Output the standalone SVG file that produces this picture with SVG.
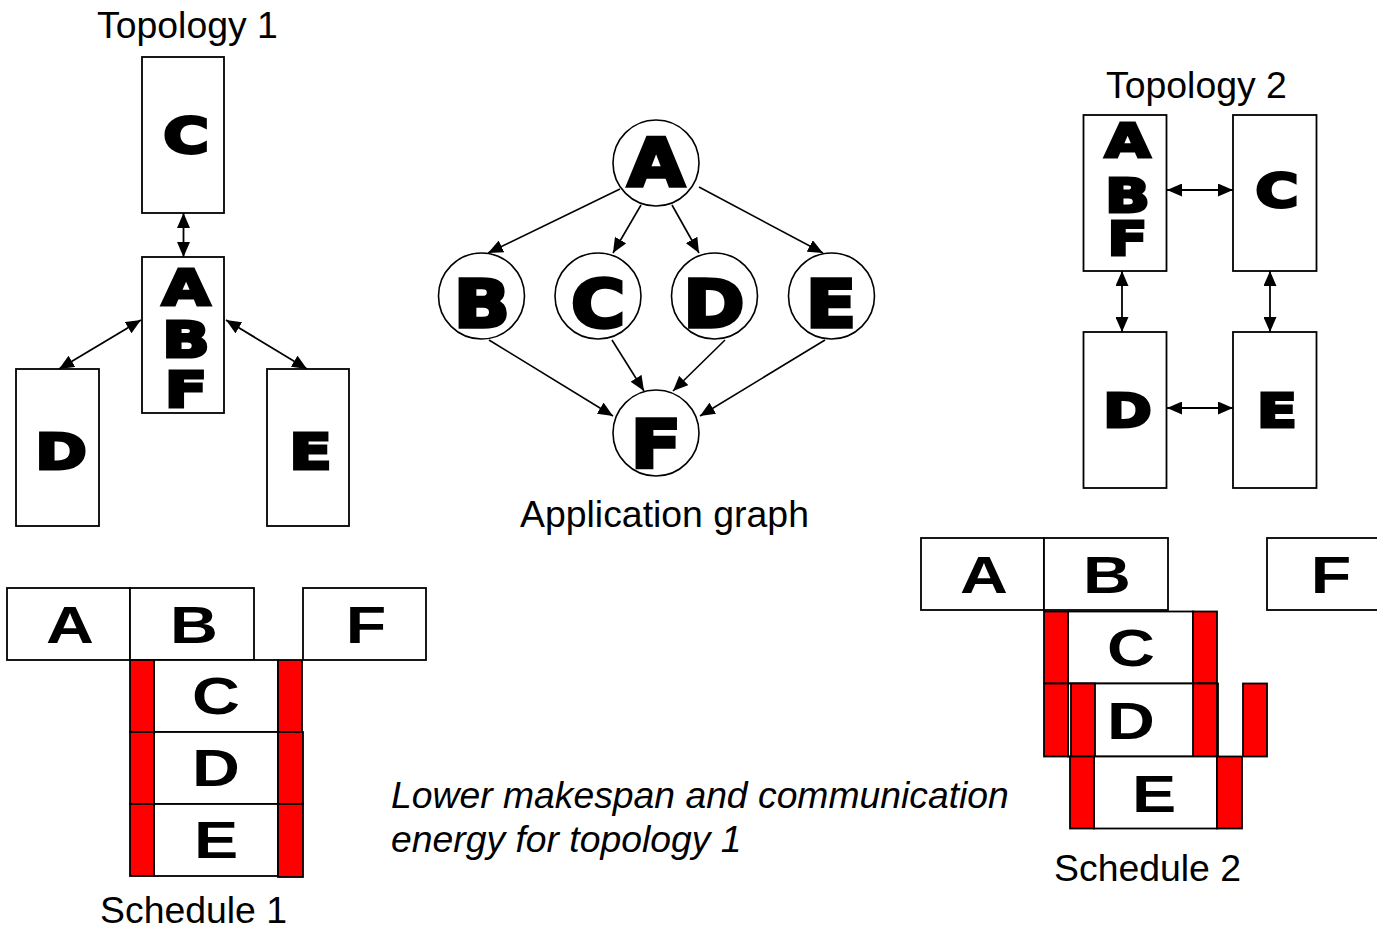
<svg xmlns="http://www.w3.org/2000/svg" width="1377" height="931" viewBox="0 0 1377 931">
<defs>
<marker id="ah" markerUnits="userSpaceOnUse" markerWidth="16" markerHeight="13" refX="15" refY="6.5" orient="auto-start-reverse">
<path d="M0,0 L15,6.5 L0,13 z" fill="#000"/>
</marker>
<style>
.box{fill:#fff;stroke:#000;stroke-width:1.8}
.red{fill:#ff0000;stroke:#000;stroke-width:1.8}
.circ{fill:#fff;stroke:#000;stroke-width:1.6}
.edge{stroke:#000;stroke-width:1.6;fill:none;marker-end:url(#ah)}
.link{stroke:#000;stroke-width:1.8;fill:none;marker-start:url(#ah);marker-end:url(#ah)}
.lbl{font-family:"Liberation Sans",Arial,sans-serif;font-size:37.4px;fill:#000}
.ital{font-family:"Liberation Sans",Arial,sans-serif;font-size:37.3px;font-style:italic;fill:#000}
.heavy{font-family:"DejaVu Sans",sans-serif;font-weight:bold;fill:#000;stroke:#000;stroke-width:3;stroke-linejoin:miter;text-anchor:middle}
.h49{font-size:49px}
.h46{font-size:46px}
.h66{font-size:66px;stroke-width:3.5}
.sch{font-family:"Liberation Sans",Arial,sans-serif;font-weight:bold;font-size:51px;fill:#000;text-anchor:middle}
</style>
</defs>

<g id="topology1">
<text class="lbl" x="97" y="38">Topology 1</text>
<g id="t1-C"><rect class="box" x="142" y="57" width="82" height="156"/><text class="heavy h49" transform="translate(186,152.5) scale(1.27,1)">C</text></g>
<g id="t1-ABF"><rect class="box" x="142" y="257" width="82" height="156"/>
<text class="heavy h49" transform="translate(186,0) scale(1.27,1)"><tspan x="0" y="305">A</tspan><tspan x="0" y="357">B</tspan><tspan x="0" y="407">F</tspan></text></g>
<g id="t1-D"><rect class="box" x="16" y="369" width="83" height="157"/><text class="heavy h49" transform="translate(61,468.5) scale(1.27,1)">D</text></g>
<g id="t1-E"><rect class="box" x="267" y="369" width="82" height="157"/><text class="heavy h49" transform="translate(310.5,468.5) scale(1.27,1)">E</text></g>
</g>

<g id="app-graph">
<g id="g-A"><circle class="circ" cx="656" cy="163" r="43"/><text class="heavy h66" transform="translate(656,185.5) scale(1.12,1)">A</text></g>
<g id="g-B"><circle class="circ" cx="481.5" cy="296" r="43"/><text class="heavy h66" transform="translate(482,326.5) scale(1.12,1)">B</text></g>
<g id="g-C"><circle class="circ" cx="598" cy="296" r="43"/><text class="heavy h66" transform="translate(598,327) scale(1.12,1)">C</text></g>
<g id="g-D"><circle class="circ" cx="714.5" cy="296" r="43"/><text class="heavy h66" transform="translate(714,326.5) scale(1.12,1)">D</text></g>
<g id="g-E"><circle class="circ" cx="831.5" cy="296" r="43"/><text class="heavy h66" transform="translate(831,326.5) scale(1.12,1)">E</text></g>
<g id="g-F"><circle class="circ" cx="656" cy="433" r="43"/><text class="heavy h66" transform="translate(656,466.5) scale(1.12,1)">F</text></g>
<text class="lbl" x="520" y="527">Application graph</text>
</g>

<g id="topology2">
<text class="lbl" x="1106" y="98">Topology 2</text>
<g id="t2-ABF"><rect class="box" x="1083.5" y="115" width="83" height="156"/>
<text class="heavy h46" transform="translate(1127.5,0) scale(1.27,1)"><tspan x="0" y="157">A</tspan><tspan x="0" y="212">B</tspan><tspan x="0" y="255.5">F</tspan></text></g>
<g id="t2-C"><rect class="box" x="1233" y="115" width="83.5" height="156"/><text class="heavy h46" transform="translate(1277,207) scale(1.27,1)">C</text></g>
<g id="t2-D"><rect class="box" x="1083.5" y="332" width="83" height="156"/><text class="heavy h46" transform="translate(1127.5,427) scale(1.27,1)">D</text></g>
<g id="t2-E"><rect class="box" x="1233" y="332" width="83.5" height="156"/><text class="heavy h46" transform="translate(1277,427) scale(1.27,1)">E</text></g>
</g>

<g id="connectors">
<line class="link" x1="183.5" y1="213" x2="183.5" y2="257"/>
<line class="link" x1="141" y1="320" x2="59" y2="369"/>
<line class="link" x1="226" y1="320" x2="307" y2="369"/>
<line class="edge" x1="620" y1="189" x2="488" y2="253"/>
<line class="edge" x1="641" y1="205" x2="613" y2="253"/>
<line class="edge" x1="672" y1="205" x2="699" y2="253"/>
<line class="edge" x1="699" y1="187" x2="823" y2="253"/>
<line class="edge" x1="489" y1="340" x2="613" y2="416"/>
<line class="edge" x1="612" y1="340" x2="644" y2="391"/>
<line class="edge" x1="725" y1="340" x2="673" y2="391"/>
<line class="edge" x1="825" y1="340" x2="700" y2="416"/>
<line class="link" x1="1167" y1="190" x2="1233" y2="190"/>
<line class="link" x1="1167" y1="408" x2="1233" y2="408"/>
<line class="link" x1="1122" y1="271" x2="1122" y2="332"/>
<line class="link" x1="1270" y1="271" x2="1270" y2="332"/>
</g>

<g id="schedule1">
<g id="s1-A"><rect class="box" x="7" y="588" width="123" height="72"/><text class="sch" transform="translate(70,642.5) scale(1.3,1)">A</text></g>
<g id="s1-B"><rect class="box" x="130" y="588" width="124" height="72"/><text class="sch" transform="translate(194,642.5) scale(1.3,1)">B</text></g>
<g id="s1-F"><rect class="box" x="303" y="588" width="123" height="72"/><text class="sch" transform="translate(366,642.5) scale(1.3,1)">F</text></g>
<g id="s1-C"><rect class="box" x="154" y="660" width="124" height="72"/><rect class="red" x="130" y="660" width="24" height="72"/><rect class="red" x="278" y="660" width="24" height="72"/><text class="sch" transform="translate(216,714) scale(1.3,1)">C</text></g>
<g id="s1-D"><rect class="box" x="154" y="732" width="124" height="72"/><rect class="red" x="130" y="732" width="24" height="72"/><rect class="red" x="278" y="732" width="25" height="72"/><text class="sch" transform="translate(216,786) scale(1.3,1)">D</text></g>
<g id="s1-E"><rect class="box" x="154" y="804" width="124" height="72"/><rect class="red" x="130" y="804" width="24" height="72"/><rect class="red" x="278" y="804" width="25" height="73"/><text class="sch" transform="translate(216,858) scale(1.3,1)">E</text></g>
<text class="lbl" x="100" y="923">Schedule 1</text>
</g>

<g id="schedule2">
<g id="s2-A"><rect class="box" x="921" y="538" width="123" height="72"/><text class="sch" transform="translate(984,593) scale(1.3,1)">A</text></g>
<g id="s2-B"><rect class="box" x="1044" y="538" width="124" height="72"/><text class="sch" transform="translate(1107,593) scale(1.3,1)">B</text></g>
<g id="s2-F"><rect class="box" x="1267" y="538" width="124" height="72"/><text class="sch" transform="translate(1331,593) scale(1.3,1)">F</text></g>
<g id="s2-C"><rect class="box" x="1068" y="611.5" width="125" height="72"/><rect class="red" x="1044" y="611.5" width="24" height="72"/><rect class="red" x="1193" y="611.5" width="24" height="72"/><text class="sch" transform="translate(1131,666) scale(1.3,1)">C</text></g>
<g id="s2-D"><rect class="box" x="1068" y="683.5" width="150" height="73"/><rect class="red" x="1044" y="683.5" width="24" height="73"/><rect class="red" x="1071" y="683.5" width="24" height="73"/><rect class="red" x="1193" y="683.5" width="24" height="73"/><rect class="red" x="1243" y="683.5" width="24" height="73"/><text class="sch" transform="translate(1131,739) scale(1.3,1)">D</text></g>
<g id="s2-E"><rect class="box" x="1094" y="756.5" width="123" height="72"/><rect class="red" x="1070" y="756.5" width="24" height="72"/><rect class="red" x="1217" y="756.5" width="25" height="72"/><text class="sch" transform="translate(1154,811.5) scale(1.3,1)">E</text></g>
<text class="lbl" x="1054" y="881">Schedule 2</text>
</g>

<g id="note">
<text class="ital" x="391" y="808">Lower makespan and communication</text>
<text class="ital" x="391" y="852">energy for topology 1</text>
</g>
</svg>
